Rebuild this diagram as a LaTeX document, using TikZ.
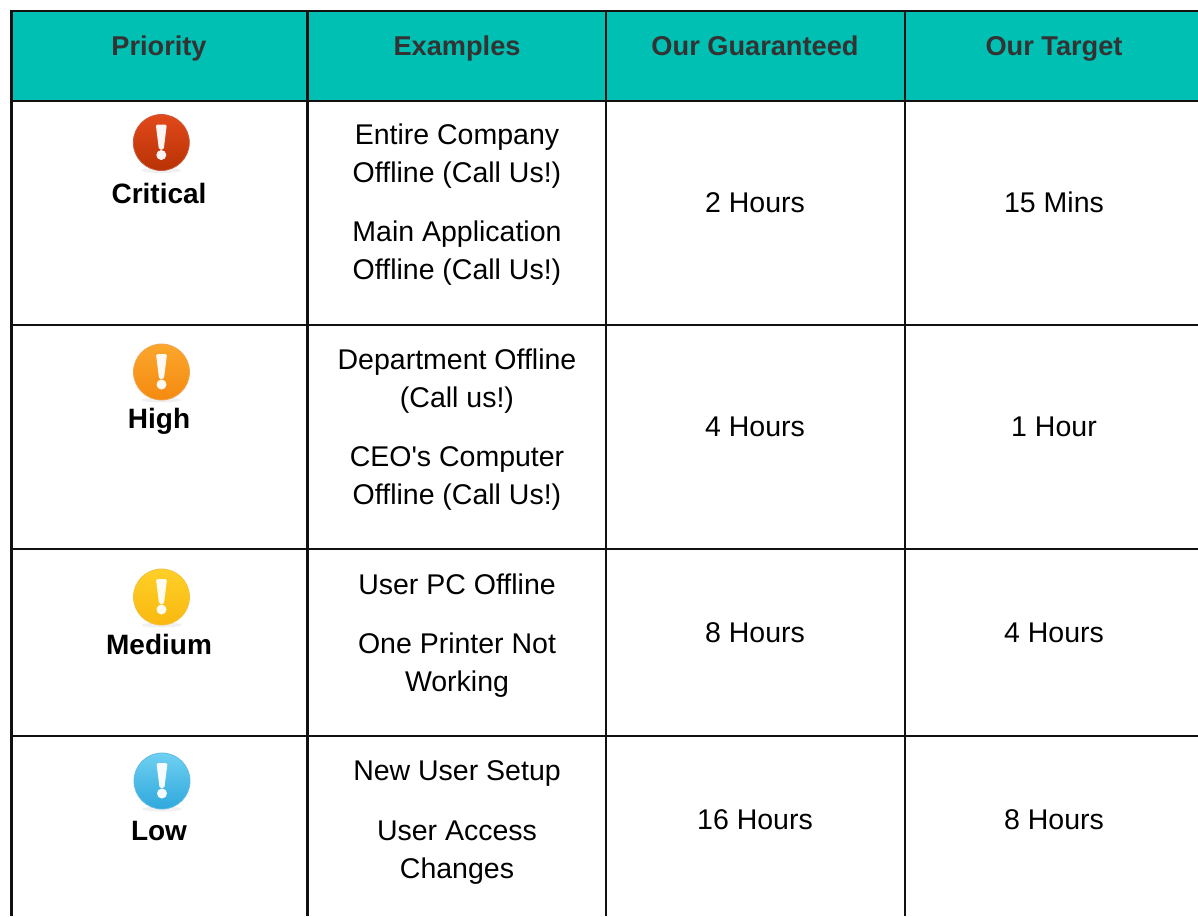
\documentclass[tikz,border=0pt]{standalone}
\usepackage{fontspec}
\setmainfont{Liberation Sans}
\newfontfamily\plainfont{Liberation Sans}
\definecolor{teal0}{HTML}{00BFB3}
\definecolor{head0}{HTML}{333333}
\definecolor{rule0}{HTML}{111111}
\definecolor{redT}{HTML}{E2491B}\definecolor{redB}{HTML}{B83205}\definecolor{redR}{HTML}{C85A3A}
\definecolor{orgT}{HTML}{FBA62C}\definecolor{orgB}{HTML}{F58A10}\definecolor{orgR}{HTML}{F0A550}
\definecolor{yelT}{HTML}{FFD028}\definecolor{yelB}{HTML}{F9B80F}\definecolor{yelR}{HTML}{F2C040}
\definecolor{bluT}{HTML}{6FD0F2}\definecolor{bluB}{HTML}{2FA8DC}\definecolor{bluR}{HTML}{60BCE2}
\tikzset{
  x=1pt,y=-1pt,
  gridline/.style={draw=rule0,line width=2.7pt},
  cell/.style={anchor=base,inner sep=0pt,outer sep=0pt,text=black,font=\fontsize{28.5}{34}\selectfont},
  prio/.style={anchor=base,inner sep=0pt,outer sep=0pt,text=black,font=\fontsize{28}{34}\selectfont\bfseries},
  headcell/.style={anchor=base,inner sep=0pt,outer sep=0pt,text=head0,font=\fontsize{27.2}{34}\selectfont\bfseries},
}
\newcommand{\alerticon}[5]{% x, y, top colour, bottom colour, rim
  \fill[black,opacity=.06] (#1,#2+28) ellipse [x radius=20,y radius=2.5];
  \shade[top color=#3,bottom color=#4,draw=#5,line width=.8pt] (#1,#2) circle [radius=28];
  \fill[white,opacity=.95,rounded corners=1.5pt] (#1-5.5,#2-18) -- (#1+5.5,#2-18) -- (#1+2.4,#2+7) -- (#1-2.4,#2+7) -- cycle;
  \fill[white,opacity=.95] (#1,#2+12.5) circle [radius=5];
}
\begin{document}
\begin{tikzpicture}
\useasboundingbox (0,0) rectangle (1198,916);
\fill[white] (0,0) rectangle (1198,916);
\fill[teal0] (11,11) rectangle (1198,101);
% icons
\alerticon{161.3}{142.5}{redT}{redB}{redR}
\alerticon{161.5}{372}{orgT}{orgB}{orgR}
\alerticon{161.5}{597}{yelT}{yelB}{yelR}
\alerticon{162}{781}{bluT}{bluB}{bluR}
% grid
\draw[gridline] (11,11) -- (1198,11);
\draw[gridline] (11,101) -- (1198,101);
\draw[gridline] (11,325) -- (1198,325);
\draw[gridline] (11,549) -- (1198,549);
\draw[gridline] (11,736) -- (1198,736);
\draw[gridline] (11.5,10) -- (11.5,916);
\draw[gridline] (307.3,10) -- (307.3,916);
\draw[gridline] (606,10) -- (606,916);
\draw[gridline] (905,10) -- (905,916);
% header
\node[headcell] (h1) at (159,55) {Priority};
\node[headcell] (h2) at (457,55) {Examples};
\node[headcell] (h3) at (755,55) {Our Guaranteed};
\node[headcell] (h4) at (1054,55) {Our Target};
% priority
\node[prio] (p1) at (159,203) {Critical};
\node[prio] (p2) at (159,428) {High};
\node[prio] (p3) at (159,654) {Medium};
\node[prio] (p4) at (159,840) {Low};
% examples
\node[cell] (e1a) at (457,144) {Entire Company};
\node[cell] (e1b) at (457,182) {Offline (Call Us!)};
\node[cell] (e1c) at (457,241) {Main Application};
\node[cell] (e1d) at (457,279) {Offline (Call Us!)};
\node[cell] (e2a) at (457,369) {Department Offline};
\node[cell] (e2b) at (457,407) {(Call us!)};
\node[cell] (e2c) at (457,466) {\plainfont CEO's Computer};
\node[cell] (e2d) at (457,504) {Offline (Call Us!)};
\node[cell] (e3a) at (457,594) {User PC Offline};
\node[cell] (e3b) at (457,653) {One Printer Not};
\node[cell] (e3c) at (457,691) {Working};
\node[cell] (e4a) at (457,780) {New User Setup};
\node[cell] (e4b) at (457,840) {User Access};
\node[cell] (e4c) at (457,878) {Changes};
% times
\node[cell] (g1) at (755,212) {2 Hours};
\node[cell] (t1) at (1054,212) {15 Mins};
\node[cell] (g2) at (755,436) {4 Hours};
\node[cell] (t2) at (1054,436) {1 Hour};
\node[cell] (g3) at (755,642) {8 Hours};
\node[cell] (t3) at (1054,642) {4 Hours};
\node[cell] (g4) at (755,829) {16 Hours};
\node[cell] (t4) at (1054,829) {8 Hours};
\end{tikzpicture}
\end{document}
